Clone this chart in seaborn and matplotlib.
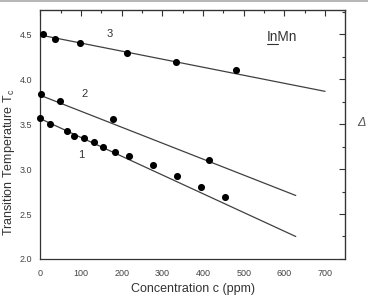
import numpy as np
import pandas as pd
import matplotlib
matplotlib.use("Agg")
import matplotlib.pyplot as plt
import seaborn as sns
from matplotlib.ticker import MultipleLocator
from matplotlib.lines import Line2D

# ---- data ----
conc_1 = [0, 24, 66, 84, 108, 132, 153, 183, 218, 277, 336, 396, 454]
tc_1 = [3.57, 3.50, 3.42, 3.37, 3.34, 3.30, 3.25, 3.19, 3.14, 3.04, 2.92, 2.80, 2.69]
conc_2 = [2, 49, 178, 415]
tc_2 = [3.83, 3.76, 3.56, 3.10]
conc_3 = [6, 37, 97, 212, 333, 481]
tc_3 = [4.50, 4.45, 4.40, 4.29, 4.195, 4.10]

fit_conc_1 = [0, 628]
fit_tc_1 = [3.56, 2.25]
fit_conc_2 = [0, 628]
fit_tc_2 = [3.82, 2.706]
fit_conc_3 = [0, 700]
fit_tc_3 = [4.49, 3.864]

series_names = ["1", "2", "3"]
x_ticks = [0, 100, 200, 300, 400, 500, 600, 700]
y_ticks = [2.0, 2.5, 3.0, 3.5, 4.0, 4.5]

points = pd.concat([
    pd.DataFrame({"c": conc_1, "tc": tc_1, "s": series_names[0]}),
    pd.DataFrame({"c": conc_2, "tc": tc_2, "s": series_names[1]}),
    pd.DataFrame({"c": conc_3, "tc": tc_3, "s": series_names[2]}),
])
fits = pd.concat([
    pd.DataFrame({"c": fit_conc_1, "tc": fit_tc_1, "s": series_names[0]}),
    pd.DataFrame({"c": fit_conc_2, "tc": fit_tc_2, "s": series_names[1]}),
    pd.DataFrame({"c": fit_conc_3, "tc": fit_tc_3, "s": series_names[2]}),
])

sns.set_style("white")
plt.rcParams["font.family"] = ["Liberation Sans", "DejaVu Sans"]

dark = "#333333"
fig = plt.figure(figsize=(3.68, 2.97), dpi=100)
ax = fig.add_axes([0.1095, 0.128, 0.829, 0.8373])

sns.lineplot(data=fits, x="c", y="tc", units="s", estimator=None,
             color="#404040", lw=0.9, ax=ax, legend=False)
sns.scatterplot(data=points, x="c", y="tc", color="black", s=26,
                edgecolor="black", linewidth=0, ax=ax, legend=False,
                clip_on=False, zorder=5)

ax.set_xlim(0, 750)
ax.set_ylim(2.0, 4.765)
ax.set_xticks(x_ticks)
ax.set_yticks(y_ticks)
ax.set_xticklabels([str(v) for v in x_ticks])
ax.set_yticklabels([f"{v:.1f}" for v in y_ticks])
ax.xaxis.set_minor_locator(MultipleLocator(50))
ax.yaxis.set_minor_locator(MultipleLocator(0.25))
ax.tick_params(which="both", direction="out", colors=dark, width=0.8,
               labelsize=6.5, labelcolor="#444444")
ax.tick_params(which="major", length=4)
ax.tick_params(which="minor", length=2.5)
ax.tick_params(axis="x", pad=3)
ax.tick_params(axis="y", pad=1.8)

for sp in ax.spines.values():
    sp.set_visible(True)
    sp.set_color(dark)
    sp.set_linewidth(0.9)

# mirrored inward ticks on top / right
secx = ax.secondary_xaxis("top")
secx.set_xticks(x_ticks)
secx.xaxis.set_minor_locator(MultipleLocator(50))
secx.tick_params(which="both", direction="in", colors=dark, width=0.8, labeltop=False)
secx.tick_params(which="major", length=4)
secx.tick_params(which="minor", length=2.5)
secx.spines["top"].set_color(dark)
secy = ax.secondary_yaxis("right")
secy.set_yticks(y_ticks)
secy.yaxis.set_minor_locator(MultipleLocator(0.25))
secy.tick_params(which="both", direction="in", colors=dark, width=0.8, labelright=False)
secy.tick_params(which="major", length=4)
secy.tick_params(which="minor", length=2.5)
secy.spines["right"].set_color(dark)

ax.set_xlabel("Concentration c (ppm)", fontsize=9, color=dark)
ax.set_ylabel(r"Transition Temperature T$_{\mathregular{c}}$", fontsize=9, color=dark,
              va="center")
ax.xaxis.set_label_coords(0.5, -0.0965)
ax.yaxis.set_label_coords(-0.104, 0.39)

# curve numbers
ax.text(171, 4.497, series_names[2], fontsize=8, color=dark, ha="center", va="center")
ax.text(110, 3.83, series_names[1], fontsize=8, color=dark, ha="center", va="center")
ax.text(101.7, 3.16, series_names[0], fontsize=8, color=dark, ha="center", va="center")

# InMn label with "In" underlined
t = ax.text(557, 4.47, "InMn", fontsize=9.8, color=dark, ha="left", va="center")
fig.canvas.draw()
r = fig.canvas.get_renderer()
tmp = ax.text(557, 4.47, "In", fontsize=9.8, ha="left", va="center")
bb = tmp.get_window_extent(renderer=r)
tmp.remove()
inv = fig.transFigure.inverted()
(x0, y0) = inv.transform((bb.x0 + 0.5, bb.y0 + 0.3))
(x1, _) = inv.transform((bb.x1 - 0.2, bb.y0))
fig.add_artist(Line2D([x0, x1], [y0, y0], color=dark, lw=0.8))

# border remnants of the scanned page
fig.add_artist(Line2D([0, 1], [0.997, 0.997], color="#aaaaaa", lw=1.2))
fig.text(0.972, 0.575, "Δ", fontsize=9, color="#555555", style="italic")

fig.savefig("out.png", dpi=100)
